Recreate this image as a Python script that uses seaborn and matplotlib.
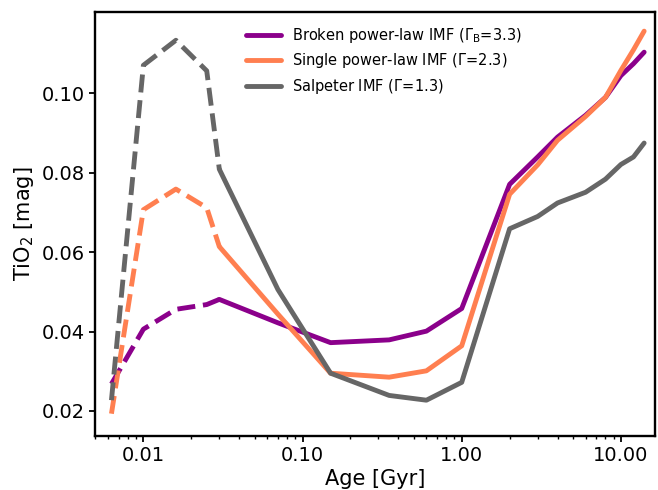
import numpy as np
import pandas as pd
import matplotlib
matplotlib.use("Agg")
import matplotlib.pyplot as plt
from matplotlib.ticker import FormatStrFormatter
import seaborn as sns

# ages in Gyr
age = [0.0063, 0.01, 0.016, 0.025, 0.03, 0.07, 0.15, 0.35, 0.6, 1.0,
       2.0, 3.0, 4.0, 6.0, 8.0, 10.0, 12.0, 14.0]

tio2_broken = [0.0268, 0.0406, 0.0456, 0.0468, 0.0481, 0.0422, 0.0372, 0.0379, 0.0401, 0.0458,
               0.0771, 0.0840, 0.0890, 0.0945, 0.0990, 0.1045, 0.1075, 0.1104]
tio2_single = [0.0193, 0.0707, 0.0759, 0.0712, 0.0614, 0.0444, 0.0295, 0.0285, 0.0301, 0.0364,
               0.0746, 0.0820, 0.0882, 0.0942, 0.0990, 0.1058, 0.1110, 0.1157]
tio2_salp = [0.0227, 0.1071, 0.1134, 0.1057, 0.0809, 0.0506, 0.0295, 0.0239, 0.0227, 0.0272,
             0.0659, 0.0690, 0.0724, 0.0751, 0.0784, 0.0821, 0.0840, 0.0875]

labels = [r'Broken power-law IMF ($\Gamma_{\rm B}$=3.3)',
          r'Single power-law IMF ($\Gamma$=2.3)',
          r'Salpeter IMF ($\Gamma$=1.3)']
colors = ['#8B008B', '#FF7F50', '#666666']
age_cut = 0.03

sns.set_style("ticks", rc={'axes.edgecolor': 'black', 'text.color': 'black',
                           'axes.labelcolor': 'black', 'xtick.color': 'black',
                           'ytick.color': 'black'})
plt.rcParams['font.family'] = ['DejaVu Sans']

fig = plt.figure(figsize=(6.58, 4.9), dpi=100)
ax = fig.add_axes([0.1451, 0.1112, 0.8511, 0.8633])

for vals, lab, col in zip([tio2_broken, tio2_single, tio2_salp], labels, colors):
    df = pd.DataFrame({'age': age, 'tio2': vals})
    young = df[df['age'] <= age_cut]
    old = df[df['age'] >= age_cut]
    sns.lineplot(data=young, x='age', y='tio2', ax=ax, color=col, lw=3.5,
                 linestyle='--', estimator=None, sort=False)
    sns.lineplot(data=old, x='age', y='tio2', ax=ax, color=col, lw=3.5,
                 estimator=None, sort=False, label=lab)

ax.set_xscale('log')
ax.set_xlim(0.005, 16.5)
ax.set_ylim(0.0138, 0.1204)
ax.xaxis.set_major_formatter(FormatStrFormatter('%.2f'))
ax.yaxis.set_major_formatter(FormatStrFormatter('%.2f'))
ax.set_yticks([0.02, 0.04, 0.06, 0.08, 0.10])
ax.tick_params(labelsize=14, width=1.3, length=4, pad=3.5)
ax.tick_params(which='minor', width=1, length=2)
for sp in ax.spines.values():
    sp.set_linewidth(1.7)

ax.set_xlabel('Age [Gyr]', fontsize=15, labelpad=3)
ax.set_ylabel(r'TiO$_2$ [mag]', fontsize=15, labelpad=4)

ax.legend(loc='upper left', bbox_to_anchor=(0.2445, 1.0), frameon=False, fontsize=10.5,
          handlelength=2.4, labelspacing=0.45)

fig.savefig('out.png', dpi=100)
